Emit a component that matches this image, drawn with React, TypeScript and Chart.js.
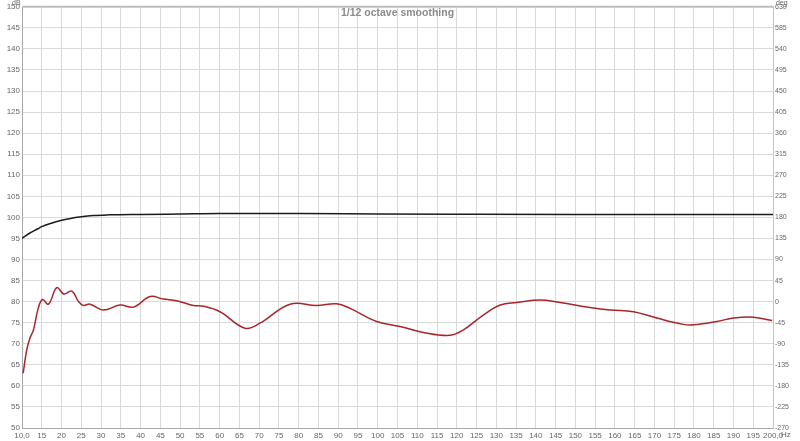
import React, { useEffect, useRef } from "react";
import { Chart, registerables } from "chart.js";

Chart.register(...registerables);

const blackFreq = [10, 11, 12, 13, 14, 15, 17, 20, 22, 25, 28, 32, 40, 50, 60, 80, 100, 120, 150, 200];
const blackDb = [95.0, 95.7, 96.3, 96.8, 97.3, 97.8, 98.5, 99.3, 99.7, 100.15, 100.45, 100.6, 100.7, 100.8, 100.9, 100.9, 100.8, 100.75, 100.7, 100.7];

const redFreq = [10.3, 11.2, 12.0, 12.9, 14.1, 15.2, 16.7, 18.8, 20.6, 22.6, 24.3, 25.5, 27.2, 30.6, 34.8, 38.2, 42.4, 45.8, 49.1, 53.3, 56, 60.1, 66.4, 70.2, 77.8, 84.6, 89.6, 93.0, 99.7, 105.6, 111.5, 118.3, 121.7, 126.7, 131, 135.2, 141.1, 146.1, 153.7, 158.8, 164.7, 170.6, 177.3, 179.9, 185.8, 190, 195.1, 199.8];
const redDb = [63.0, 68.6, 71.3, 73.3, 78.4, 80.5, 79.4, 83.3, 81.8, 82.5, 80.0, 79.1, 79.4, 78.0, 79.2, 78.7, 81.2, 80.6, 80.2, 79.1, 78.9, 77.6, 73.7, 74.9, 79.4, 79.1, 79.5, 78.4, 75.3, 74.1, 72.7, 72.0, 73.3, 76.8, 79.2, 79.8, 80.4, 79.8, 78.6, 78.0, 77.6, 76.1, 74.6, 74.5, 75.3, 76.1, 76.3, 75.5];

const xMin = 10, xMax = 200, xStep = 5;
const dbMin = 50, dbMax = 150, dbStep = 5;
const degMin = -270, degMax = 630, degStep = 45;
const titleText = "1/12 octave smoothing";

const FONT = "'Liberation Sans', Arial, sans-serif";

export default function App() {
  const ref = useRef<HTMLCanvasElement | null>(null);
  useEffect(() => {
    document.body.style.margin = "0";
    const canvas = ref.current!;
    const overlay = {
      id: "overlay",
      afterDraw(chart: any) {
        const { ctx, chartArea } = chart;
        ctx.save();
        ctx.strokeStyle = "#bdbdbd";
        ctx.lineWidth = 2;
        ctx.beginPath();
        ctx.moveTo(chartArea.left, chartArea.top);
        ctx.lineTo(chartArea.right, chartArea.top);
        ctx.stroke();
        ctx.fillStyle = "#8c8c8c";
        ctx.font = `bold 10.5px ${FONT}`;
        ctx.textAlign = "center";
        ctx.textBaseline = "middle";
        ctx.fillText(titleText, (chartArea.left + chartArea.right) / 2, 13);
        ctx.fillStyle = "#666";
        ctx.font = `7px ${FONT}`;
        ctx.textAlign = "left";
        ctx.textBaseline = "top";
        ctx.fillText("dB", 12, 0);
        ctx.fillText("deg", chartArea.right + 3, 0);
        ctx.font = `8px ${FONT}`;
        ctx.textBaseline = "top";
        ctx.fillText("Hz", chartArea.right + 8, chartArea.bottom + 3);
        ctx.restore();
      },
    };
    const chart = new Chart(canvas, {
      type: "line",
      data: {
        datasets: [
          {
            data: blackFreq.map((f, i) => ({ x: f, y: blackDb[i] })),
            borderColor: "#1c1c1c",
            borderWidth: 1.5,
            pointRadius: 0,
            cubicInterpolationMode: "monotone",
            yAxisID: "y",
          },
          {
            data: redFreq.map((f, i) => ({ x: f, y: redDb[i] })),
            borderColor: "#a8262b",
            borderWidth: 1.5,
            pointRadius: 0,
            tension: 0.4,
            yAxisID: "y",
          },
        ],
      },
      options: {
        animation: false,
        responsive: false,
        layout: { padding: { top: 6, left: 0, right: 0, bottom: 0 } },
        plugins: { legend: { display: false }, tooltip: { enabled: false }, title: { display: false } },
        scales: {
          x: {
            type: "linear",
            min: xMin,
            max: xMax,
            afterFit: (s: any) => { s.height = 13; },
            grid: { color: "#dadada", drawTicks: false },
            border: { color: "#a8a8a8" },
            ticks: {
              stepSize: xStep,
              autoSkip: false,
              maxRotation: 0,
              padding: 3,
              color: "#666",
              font: { family: FONT, size: 8 },
              callback: (v: any) => (v === xMin ? "10,0" : v === xMax ? "200,0" : String(v)),
            },
          },
          y: {
            type: "linear",
            position: "left",
            min: dbMin,
            max: dbMax,
            afterFit: (s: any) => { s.width = 22; },
            grid: { color: "#dadada", drawTicks: false },
            border: { color: "#a8a8a8" },
            ticks: { stepSize: dbStep, padding: 2, color: "#666", font: { family: FONT, size: 8 } },
          },
          y2: {
            type: "linear",
            position: "right",
            min: degMin,
            max: degMax,
            afterFit: (s: any) => { s.width = 27; },
            grid: { display: false, drawTicks: false },
            border: { color: "#c4c4c4" },
            ticks: { stepSize: degStep, padding: 2, color: "#666", font: { family: FONT, size: 7 } },
          },
        },
      },
      plugins: [overlay],
    } as any);
    return () => chart.destroy();
  }, []);
  return <canvas ref={ref} width={800} height={441} style={{ display: "block" }} />;
}
